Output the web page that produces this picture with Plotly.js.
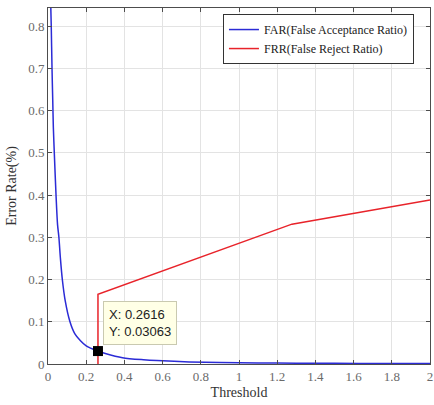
<!DOCTYPE html>
<html>
<head>
<meta charset="utf-8">
<script src="https://cdn.plot.ly/plotly-3.0.1.min.js"></script>
<style>html,body{margin:0;padding:0;background:#fff;}#chart{width:434px;height:405px;}</style>
</head>
<body>
<div id="chart"></div>
<script>
var farX = [0.008, 0.012, 0.017, 0.021, 0.025, 0.028, 0.033, 0.042, 0.05, 0.057, 0.065, 0.075, 0.09, 0.115, 0.14, 0.17, 0.2, 0.2616, 0.3, 0.39, 0.5, 0.57, 0.74, 0.9, 1.1, 1.3, 1.5, 1.75, 2.0];
var farY = [1.2, 0.9, 0.8, 0.7, 0.62, 0.56, 0.5, 0.4, 0.33, 0.3, 0.25, 0.2, 0.15, 0.1, 0.072, 0.055, 0.043, 0.03063, 0.025, 0.015, 0.01, 0.008, 0.005, 0.0035, 0.0025, 0.002, 0.0015, 0.0012, 0.001];
var frrX = [0.2616, 0.2616, 1.277, 2.0];
var frrY = [0, 0.165, 0.331, 0.388];
var markX = [0.2616];
var markY = [0.03063];
var tipText = 'X: 0.2616<br>Y: 0.03063';

var serif = 'Liberation Serif';
var traces = [
  {x: farX, y: farY, type: 'scatter', mode: 'lines', name: 'FAR(False Acceptance Ratio)',
   line: {color: '#2b2bd6', width: 1.5, shape: 'spline', smoothing: 0.8}},
  {x: frrX, y: frrY, type: 'scatter', mode: 'lines', name: 'FRR(False Reject Ratio)',
   line: {color: '#e8232a', width: 1.5}},
  {x: markX, y: markY, type: 'scatter', mode: 'markers', showlegend: false,
   marker: {symbol: 'square', size: 10, color: '#000', line: {color: '#000', width: 0}}}
];
var axisCommon = {
  showline: true, mirror: 'ticks', linecolor: '#4d4d4d', linewidth: 1,
  ticks: 'inside', ticklen: 4, tickcolor: '#4d4d4d',
  showgrid: true, gridcolor: '#e3e3e3', gridwidth: 1, zeroline: false,
  tickfont: {family: serif, size: 13, color: '#6a6a6a'}
};
var layout = {
  width: 434, height: 405,
  margin: {l: 48, r: 4, t: 8, b: 40.5},
  paper_bgcolor: '#fff', plot_bgcolor: '#fff',
  showlegend: true,
  legend: {x: 0.458, y: 0.983, xanchor: 'left', yanchor: 'top',
    bgcolor: '#fff', bordercolor: '#333', borderwidth: 1,
    font: {family: serif, size: 12, color: '#222'}, tracegroupgap: 0, itemwidth: 30},
  xaxis: Object.assign({}, axisCommon, {range: [0, 2], dtick: 0.2,
    title: {text: 'Threshold', font: {family: serif, size: 14, color: '#333'}, standoff: 4}}),
  yaxis: Object.assign({}, axisCommon, {range: [0, 0.8426], dtick: 0.1,
    title: {text: 'Error Rate(%)', font: {family: serif, size: 14, color: '#333'}, standoff: 8}}),
  annotations: [{x: 0.288, y: 0.148, xref: 'x', yref: 'y', xanchor: 'left', yanchor: 'top',
    text: tipText, showarrow: false, align: 'left',
    font: {family: 'Liberation Sans', size: 13, color: '#222'},
    bgcolor: '#ffffe6', bordercolor: '#c9c9b0', borderwidth: 1, borderpad: 5}]
};
Plotly.newPlot('chart', traces, layout, {displayModeBar: false, staticPlot: true});
</script>
</body>
</html>
